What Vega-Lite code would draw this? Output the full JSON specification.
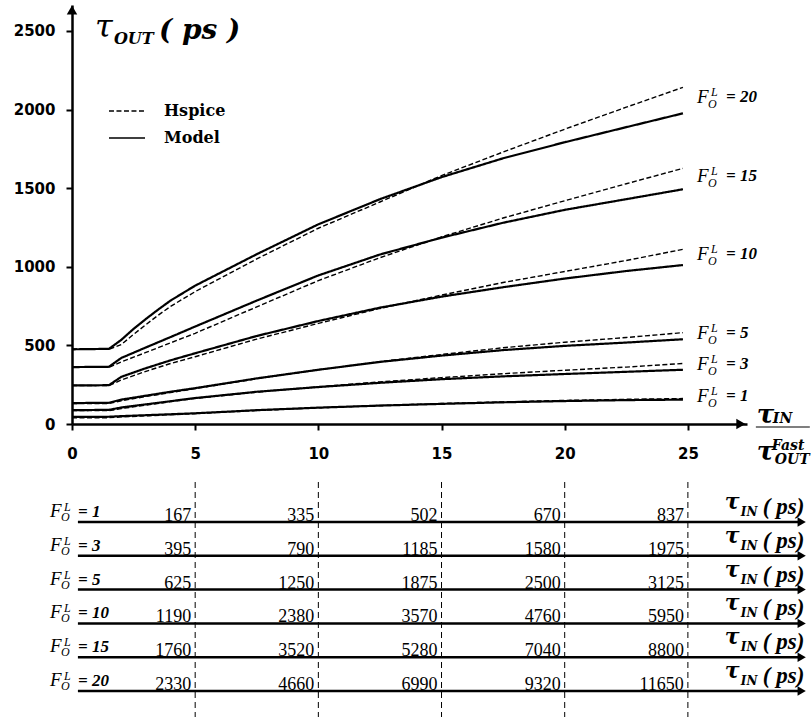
{
"$schema": "https://vega.github.io/schema/vega-lite/v6.json",
"autosize": "none",
"padding": {"left": 72, "top": 5, "right": 64, "bottom": 293},
"width": 675,
"height": 419,
"background": "white",
"config": {
  "view": {"stroke": null},
  "axis": {"domainColor": "black", "domainWidth": 2.5, "tickColor": "black", "tickWidth": 2, "tickSize": 6, "labelFont": "DejaVu Sans", "labelFontWeight": "bold", "labelFontSize": 15, "labelColor": "black", "grid": false, "labelFlush": false, "format": "d"},
  "axisX": {"labelPadding": 16},
  "axisY": {"labelPadding": 11}
},
"datasets": {
  "curves": [
    {"f":20,"s":"Model","x":0,"y":475},{"f":20,"s":"Model","x":1.5,"y":478},{"f":20,"s":"Model","x":2,"y":535},{"f":20,"s":"Model","x":2.5,"y":605},{"f":20,"s":"Model","x":3,"y":668},{"f":20,"s":"Model","x":3.5,"y":728},{"f":20,"s":"Model","x":4,"y":785},{"f":20,"s":"Model","x":5,"y":880},{"f":20,"s":"Model","x":7.5,"y":1080},{"f":20,"s":"Model","x":10,"y":1270},{"f":20,"s":"Model","x":12.5,"y":1430},{"f":20,"s":"Model","x":15,"y":1570},{"f":20,"s":"Model","x":17.5,"y":1690},{"f":20,"s":"Model","x":20,"y":1792},{"f":20,"s":"Model","x":22.5,"y":1888},{"f":20,"s":"Model","x":24.8,"y":1976},
    {"f":20,"s":"Hspice","x":0,"y":478},{"f":20,"s":"Hspice","x":1.5,"y":476},{"f":20,"s":"Hspice","x":2,"y":505},{"f":20,"s":"Hspice","x":2.5,"y":570},{"f":20,"s":"Hspice","x":3,"y":632},{"f":20,"s":"Hspice","x":3.5,"y":692},{"f":20,"s":"Hspice","x":4,"y":748},{"f":20,"s":"Hspice","x":5,"y":842},{"f":20,"s":"Hspice","x":7.5,"y":1050},{"f":20,"s":"Hspice","x":10,"y":1245},{"f":20,"s":"Hspice","x":12.5,"y":1412},{"f":20,"s":"Hspice","x":15,"y":1580},{"f":20,"s":"Hspice","x":17.5,"y":1730},{"f":20,"s":"Hspice","x":20,"y":1875},{"f":20,"s":"Hspice","x":22.5,"y":2015},{"f":20,"s":"Hspice","x":24.8,"y":2141},
    {"f":15,"s":"Model","x":0,"y":362},{"f":15,"s":"Model","x":1.5,"y":364},{"f":15,"s":"Model","x":2,"y":420},{"f":15,"s":"Model","x":3,"y":487},{"f":15,"s":"Model","x":4,"y":553},{"f":15,"s":"Model","x":5,"y":620},{"f":15,"s":"Model","x":7.5,"y":785},{"f":15,"s":"Model","x":10,"y":945},{"f":15,"s":"Model","x":12.5,"y":1078},{"f":15,"s":"Model","x":15,"y":1185},{"f":15,"s":"Model","x":17.5,"y":1280},{"f":15,"s":"Model","x":20,"y":1362},{"f":15,"s":"Model","x":22.5,"y":1430},{"f":15,"s":"Model","x":24.8,"y":1493},
    {"f":15,"s":"Hspice","x":0,"y":362},{"f":15,"s":"Hspice","x":1.5,"y":360},{"f":15,"s":"Hspice","x":2,"y":395},{"f":15,"s":"Hspice","x":3,"y":455},{"f":15,"s":"Hspice","x":4,"y":516},{"f":15,"s":"Hspice","x":5,"y":577},{"f":15,"s":"Hspice","x":7.5,"y":745},{"f":15,"s":"Hspice","x":10,"y":912},{"f":15,"s":"Hspice","x":12.5,"y":1058},{"f":15,"s":"Hspice","x":15,"y":1190},{"f":15,"s":"Hspice","x":17.5,"y":1310},{"f":15,"s":"Hspice","x":20,"y":1420},{"f":15,"s":"Hspice","x":22.5,"y":1528},{"f":15,"s":"Hspice","x":24.8,"y":1626},
    {"f":10,"s":"Model","x":0,"y":245},{"f":10,"s":"Model","x":1.5,"y":247},{"f":10,"s":"Model","x":2,"y":300},{"f":10,"s":"Model","x":3,"y":355},{"f":10,"s":"Model","x":4,"y":405},{"f":10,"s":"Model","x":5,"y":450},{"f":10,"s":"Model","x":7.5,"y":560},{"f":10,"s":"Model","x":10,"y":655},{"f":10,"s":"Model","x":12.5,"y":740},{"f":10,"s":"Model","x":15,"y":810},{"f":10,"s":"Model","x":17.5,"y":870},{"f":10,"s":"Model","x":20,"y":925},{"f":10,"s":"Model","x":22.5,"y":973},{"f":10,"s":"Model","x":24.8,"y":1011},
    {"f":10,"s":"Hspice","x":0,"y":245},{"f":10,"s":"Hspice","x":1.5,"y":244},{"f":10,"s":"Hspice","x":2,"y":280},{"f":10,"s":"Hspice","x":3,"y":335},{"f":10,"s":"Hspice","x":4,"y":385},{"f":10,"s":"Hspice","x":5,"y":428},{"f":10,"s":"Hspice","x":7.5,"y":540},{"f":10,"s":"Hspice","x":10,"y":640},{"f":10,"s":"Hspice","x":12.5,"y":735},{"f":10,"s":"Hspice","x":15,"y":820},{"f":10,"s":"Hspice","x":17.5,"y":900},{"f":10,"s":"Hspice","x":20,"y":970},{"f":10,"s":"Hspice","x":22.5,"y":1040},{"f":10,"s":"Hspice","x":24.8,"y":1111},
    {"f":5,"s":"Model","x":0,"y":133},{"f":5,"s":"Model","x":1.5,"y":135},{"f":5,"s":"Model","x":2,"y":155},{"f":5,"s":"Model","x":3,"y":180},{"f":5,"s":"Model","x":4,"y":205},{"f":5,"s":"Model","x":5,"y":228},{"f":5,"s":"Model","x":7.5,"y":290},{"f":5,"s":"Model","x":10,"y":345},{"f":5,"s":"Model","x":12.5,"y":395},{"f":5,"s":"Model","x":15,"y":435},{"f":5,"s":"Model","x":17.5,"y":470},{"f":5,"s":"Model","x":20,"y":497},{"f":5,"s":"Model","x":22.5,"y":518},{"f":5,"s":"Model","x":24.8,"y":539},
    {"f":5,"s":"Hspice","x":0,"y":130},{"f":5,"s":"Hspice","x":1.5,"y":130},{"f":5,"s":"Hspice","x":2,"y":148},{"f":5,"s":"Hspice","x":3,"y":175},{"f":5,"s":"Hspice","x":4,"y":200},{"f":5,"s":"Hspice","x":5,"y":225},{"f":5,"s":"Hspice","x":7.5,"y":288},{"f":5,"s":"Hspice","x":10,"y":345},{"f":5,"s":"Hspice","x":12.5,"y":397},{"f":5,"s":"Hspice","x":15,"y":442},{"f":5,"s":"Hspice","x":17.5,"y":485},{"f":5,"s":"Hspice","x":20,"y":520},{"f":5,"s":"Hspice","x":22.5,"y":550},{"f":5,"s":"Hspice","x":24.8,"y":581},
    {"f":3,"s":"Model","x":0,"y":88},{"f":3,"s":"Model","x":1.5,"y":90},{"f":3,"s":"Model","x":2,"y":105},{"f":3,"s":"Model","x":3,"y":125},{"f":3,"s":"Model","x":4,"y":145},{"f":3,"s":"Model","x":5,"y":165},{"f":3,"s":"Model","x":7.5,"y":205},{"f":3,"s":"Model","x":10,"y":235},{"f":3,"s":"Model","x":12.5,"y":262},{"f":3,"s":"Model","x":15,"y":285},{"f":3,"s":"Model","x":17.5,"y":303},{"f":3,"s":"Model","x":20,"y":318},{"f":3,"s":"Model","x":22.5,"y":332},{"f":3,"s":"Model","x":24.8,"y":345},
    {"f":3,"s":"Hspice","x":0,"y":85},{"f":3,"s":"Hspice","x":1.5,"y":85},{"f":3,"s":"Hspice","x":2,"y":98},{"f":3,"s":"Hspice","x":3,"y":120},{"f":3,"s":"Hspice","x":4,"y":142},{"f":3,"s":"Hspice","x":5,"y":163},{"f":3,"s":"Hspice","x":7.5,"y":203},{"f":3,"s":"Hspice","x":10,"y":237},{"f":3,"s":"Hspice","x":12.5,"y":268},{"f":3,"s":"Hspice","x":15,"y":295},{"f":3,"s":"Hspice","x":17.5,"y":320},{"f":3,"s":"Hspice","x":20,"y":342},{"f":3,"s":"Hspice","x":22.5,"y":362},{"f":3,"s":"Hspice","x":24.8,"y":385},
    {"f":1,"s":"Model","x":0,"y":45},{"f":1,"s":"Model","x":1.5,"y":46},{"f":1,"s":"Model","x":2,"y":50},{"f":1,"s":"Model","x":3,"y":56},{"f":1,"s":"Model","x":4,"y":62},{"f":1,"s":"Model","x":5,"y":68},{"f":1,"s":"Model","x":7.5,"y":88},{"f":1,"s":"Model","x":10,"y":104},{"f":1,"s":"Model","x":12.5,"y":117},{"f":1,"s":"Model","x":15,"y":128},{"f":1,"s":"Model","x":17.5,"y":138},{"f":1,"s":"Model","x":20,"y":146},{"f":1,"s":"Model","x":22.5,"y":152},{"f":1,"s":"Model","x":24.8,"y":155},
    {"f":1,"s":"Hspice","x":0,"y":40},{"f":1,"s":"Hspice","x":1.5,"y":40},{"f":1,"s":"Hspice","x":2,"y":45},{"f":1,"s":"Hspice","x":3,"y":52},{"f":1,"s":"Hspice","x":4,"y":59},{"f":1,"s":"Hspice","x":5,"y":66},{"f":1,"s":"Hspice","x":7.5,"y":86},{"f":1,"s":"Hspice","x":10,"y":103},{"f":1,"s":"Hspice","x":12.5,"y":118},{"f":1,"s":"Hspice","x":15,"y":130},{"f":1,"s":"Hspice","x":17.5,"y":141},{"f":1,"s":"Hspice","x":20,"y":150},{"f":1,"s":"Hspice","x":22.5,"y":157},{"f":1,"s":"Hspice","x":24.8,"y":162}
  ],
  "table": [
    {"row":1,"f":1,"x":5,"v":167},{"row":1,"f":1,"x":10,"v":335},{"row":1,"f":1,"x":15,"v":502},{"row":1,"f":1,"x":20,"v":670},{"row":1,"f":1,"x":25,"v":837},
    {"row":2,"f":3,"x":5,"v":395},{"row":2,"f":3,"x":10,"v":790},{"row":2,"f":3,"x":15,"v":1185},{"row":2,"f":3,"x":20,"v":1580},{"row":2,"f":3,"x":25,"v":1975},
    {"row":3,"f":5,"x":5,"v":625},{"row":3,"f":5,"x":10,"v":1250},{"row":3,"f":5,"x":15,"v":1875},{"row":3,"f":5,"x":20,"v":2500},{"row":3,"f":5,"x":25,"v":3125},
    {"row":4,"f":10,"x":5,"v":1190},{"row":4,"f":10,"x":10,"v":2380},{"row":4,"f":10,"x":15,"v":3570},{"row":4,"f":10,"x":20,"v":4760},{"row":4,"f":10,"x":25,"v":5950},
    {"row":5,"f":15,"x":5,"v":1760},{"row":5,"f":15,"x":10,"v":3520},{"row":5,"f":15,"x":15,"v":5280},{"row":5,"f":15,"x":20,"v":7040},{"row":5,"f":15,"x":25,"v":8800},
    {"row":6,"f":20,"x":5,"v":2330},{"row":6,"f":20,"x":10,"v":4660},{"row":6,"f":20,"x":15,"v":6990},{"row":6,"f":20,"x":20,"v":9320},{"row":6,"f":20,"x":25,"v":11650}
  ]
},
"resolve": {"scale": {"y": "independent"}},
"layer": [
  {
    "data": {"name": "curves"},
    "layer": [
      {
        "transform": [{"filter": "datum.s == 'Hspice'"}],
        "mark": {"type": "line", "color": "black", "strokeWidth": 1.4},
        "encoding": {
          "x": {"field": "x", "type": "quantitative", "scale": {"domain": [0, 27.4], "nice": false, "zero": false}, "axis": {"values": [0, 5, 10, 15, 20, 25], "title": null}},
          "y": {"field": "y", "type": "quantitative", "scale": {"domain": [0, 2665], "nice": false, "zero": false}, "axis": {"values": [0, 500, 1000, 1500, 2000, 2500], "title": null}},
          "detail": {"field": "f"},
          "strokeDash": {"field": "s", "type": "nominal", "scale": {"domain": ["Hspice", "Model"], "range": [[5, 2.5], [1, 0]]},
            "legend": {"orient": "none", "legendX": 36, "legendY": 87, "title": null, "labelFont": "DejaVu Serif", "labelFontWeight": "bold", "labelFontSize": 16, "labelColor": "black", "symbolType": "stroke", "symbolSize": 1300, "symbolStrokeColor": "black", "symbolStrokeWidth": 1.5, "rowPadding": 0, "labelOffset": 18}}
        }
      },
      {
        "transform": [{"filter": "datum.s == 'Model'"}],
        "mark": {"type": "line", "color": "black", "strokeWidth": 2.2},
        "encoding": {
          "x": {"field": "x", "type": "quantitative", "title": null, "scale": {"domain": [0, 27.4], "nice": false, "zero": false}},
          "y": {"field": "y", "type": "quantitative", "title": null, "scale": {"domain": [0, 2665], "nice": false, "zero": false}},
          "detail": {"field": "f"},
          "strokeDash": {"field": "s", "type": "nominal", "scale": {"domain": ["Hspice", "Model"], "range": [[5, 2.5], [1, 0]]}}
        }
      },
      {
        "data": {"values": [{"k": "y"}]},
        "mark": {"type": "point", "shape": "triangle-up", "filled": true, "color": "black", "size": 110, "opacity": 1},
        "encoding": {
          "x": {"datum": 0, "type": "quantitative", "scale": {"domain": [0, 27.4], "nice": false, "zero": false}},
          "y": {"datum": 2633, "type": "quantitative", "scale": {"domain": [0, 2665], "nice": false, "zero": false}}
        }
      },
      {
        "data": {"values": [{"k": "x"}]},
        "mark": {"type": "point", "shape": "triangle-right", "filled": true, "color": "black", "size": 110, "opacity": 1},
        "encoding": {
          "x": {"datum": 27.15, "type": "quantitative", "scale": {"domain": [0, 27.4], "nice": false, "zero": false}},
          "y": {"datum": 0, "type": "quantitative", "scale": {"domain": [0, 2665], "nice": false, "zero": false}}
        }
      },
      {
        "data": {"values": [{"k": "title"}]},
        "encoding": {
          "x": {"datum": 0.93, "type": "quantitative", "scale": {"domain": [0, 27.4], "nice": false, "zero": false}},
          "y": {"datum": 2461, "type": "quantitative", "scale": {"domain": [0, 2665], "nice": false, "zero": false}}
        },
        "layer": [
          {"mark": {"type": "text", "text": "τ", "font": "DejaVu Serif", "fontStyle": "italic", "fontSize": 32, "align": "left", "baseline": "alphabetic", "color": "black"}},
          {"mark": {"type": "text", "text": "OUT", "font": "DejaVu Serif", "fontStyle": "italic", "fontWeight": "bold", "fontSize": 16, "align": "left", "baseline": "alphabetic", "color": "black", "dx": 19, "dy": 7}},
          {"mark": {"type": "text", "text": "( ps )", "font": "DejaVu Serif", "fontStyle": "italic", "fontWeight": "bold", "fontSize": 28, "align": "left", "baseline": "alphabetic", "color": "black", "dx": 64, "dy": 2}}
        ]
      },
      {
        "data": {"values": [{"k": "xtitle"}]},
        "encoding": {
          "x": {"datum": 27.8, "type": "quantitative", "scale": {"domain": [0, 27.4], "nice": false, "zero": false}},
          "y": {"datum": 0, "type": "quantitative", "scale": {"domain": [0, 2665], "nice": false, "zero": false}}
        },
        "layer": [
          {"mark": {"type": "text", "text": "τ", "font": "DejaVu Serif", "fontStyle": "italic", "fontWeight": "bold", "fontSize": 26, "align": "left", "baseline": "alphabetic", "color": "black", "dy": -1}},
          {"mark": {"type": "text", "text": "IN", "font": "DejaVu Serif", "fontStyle": "italic", "fontWeight": "bold", "fontSize": 14, "align": "left", "baseline": "alphabetic", "color": "black", "dx": 16, "dy": -1}},
          {"mark": {"type": "text", "text": "τ", "font": "DejaVu Serif", "fontStyle": "italic", "fontWeight": "bold", "fontSize": 26, "align": "left", "baseline": "alphabetic", "color": "black", "dy": 36}},
          {"mark": {"type": "text", "text": "Fast", "font": "DejaVu Serif", "fontStyle": "italic", "fontWeight": "bold", "fontSize": 14, "align": "left", "baseline": "alphabetic", "color": "black", "dx": 15, "dy": 26}},
          {"mark": {"type": "text", "text": "OUT", "font": "DejaVu Serif", "fontStyle": "italic", "fontWeight": "bold", "fontSize": 14, "align": "left", "baseline": "alphabetic", "color": "black", "dx": 18, "dy": 40}}
        ]
      },
      {
        "data": {"values": [{"k": "bar"}]},
        "mark": {"type": "rule", "color": "black", "strokeWidth": 1.2},
        "encoding": {
          "x": {"datum": 27.76, "type": "quantitative", "scale": {"domain": [0, 27.4], "nice": false, "zero": false}},
          "x2": {"datum": 29.95},
          "y": {"datum": -19, "type": "quantitative", "scale": {"domain": [0, 2665], "nice": false, "zero": false}}
        }
      },
      {
        "transform": [
          {"filter": "datum.x == 24.8"},
          {"aggregate": [{"op": "mean", "field": "y", "as": "my"}], "groupby": ["f"]},
          {"calculate": "'= ' + datum.f", "as": "eq"}
        ],
        "encoding": {
          "x": {"datum": 25.37, "type": "quantitative", "scale": {"domain": [0, 27.4], "nice": false, "zero": false}},
          "y": {"field": "my", "type": "quantitative", "title": null, "scale": {"domain": [0, 2665], "nice": false, "zero": false}}
        },
        "layer": [
          {"mark": {"type": "text", "text": "F", "font": "Liberation Serif", "fontStyle": "italic", "fontSize": 19, "align": "left", "baseline": "middle", "color": "black", "dy": -3}},
          {"mark": {"type": "text", "text": "L", "font": "Liberation Serif", "fontStyle": "italic", "fontSize": 12, "align": "left", "baseline": "middle", "color": "black", "dx": 14, "dy": -8}},
          {"mark": {"type": "text", "text": "O", "font": "Liberation Serif", "fontStyle": "italic", "fontSize": 12, "align": "left", "baseline": "middle", "color": "black", "dx": 11, "dy": 4}},
          {"mark": {"type": "text", "font": "Liberation Serif", "fontStyle": "italic", "fontWeight": "bold", "fontSize": 17, "align": "left", "baseline": "middle", "color": "black", "dx": 29, "dy": -3}, "encoding": {"text": {"field": "eq"}}}
        ]
      }
    ]
  },
  {
    "data": {"name": "table"},
    "layer": [
      {
        "transform": [{"filter": "datum.x == 5"}],
        "mark": {"type": "rule", "color": "black", "strokeWidth": 2.5},
        "encoding": {
          "x": {"datum": 0.24, "type": "quantitative", "scale": {"domain": [0, 27.4], "nice": false, "zero": false}},
          "x2": {"datum": 29.6},
          "y": {"field": "row", "type": "quantitative", "axis": null, "scale": {"domain": [-0.183, 6.77], "range": [477, 712], "nice": false, "zero": false}}
        }
      },
      {
        "transform": [{"filter": "datum.x == 5"}],
        "mark": {"type": "point", "shape": "triangle-right", "filled": true, "color": "black", "size": 90, "opacity": 1},
        "encoding": {
          "x": {"datum": 29.62, "type": "quantitative", "scale": {"domain": [0, 27.4], "nice": false, "zero": false}},
          "y": {"field": "row", "type": "quantitative", "axis": null, "scale": {"domain": [-0.183, 6.77], "range": [477, 712], "nice": false, "zero": false}}
        }
      },
      {
        "transform": [{"filter": "datum.row == 1"}],
        "mark": {"type": "rule", "color": "black", "strokeWidth": 1, "strokeDash": [6, 4]},
        "encoding": {
          "x": {"field": "x", "type": "quantitative", "title": null, "scale": {"domain": [0, 27.4], "nice": false, "zero": false}},
          "y": {"datum": -0.183, "type": "quantitative", "axis": null, "scale": {"domain": [-0.183, 6.77], "range": [477, 712], "nice": false, "zero": false}},
          "y2": {"datum": 6.77}
        }
      },
      {
        "mark": {"type": "text", "font": "Liberation Serif", "fontSize": 18, "align": "right", "baseline": "alphabetic", "color": "black", "dx": -4, "dy": -1},
        "encoding": {
          "x": {"field": "x", "type": "quantitative", "title": null, "scale": {"domain": [0, 27.4], "nice": false, "zero": false}},
          "y": {"field": "row", "type": "quantitative", "axis": null, "scale": {"domain": [-0.183, 6.77], "range": [477, 712], "nice": false, "zero": false}},
          "text": {"field": "v"}
        }
      },
      {
        "transform": [{"filter": "datum.x == 5"}, {"calculate": "'= ' + datum.f", "as": "eq"}],
        "encoding": {
          "x": {"datum": -0.89, "type": "quantitative", "scale": {"domain": [0, 27.4], "nice": false, "zero": false}},
          "y": {"field": "row", "type": "quantitative", "axis": null, "scale": {"domain": [-0.183, 6.77], "range": [477, 712], "nice": false, "zero": false}}
        },
        "layer": [
          {"mark": {"type": "text", "text": "F", "font": "Liberation Serif", "fontStyle": "italic", "fontSize": 19, "align": "left", "baseline": "alphabetic", "color": "black", "dy": -5}},
          {"mark": {"type": "text", "text": "L", "font": "Liberation Serif", "fontStyle": "italic", "fontSize": 12, "align": "left", "baseline": "alphabetic", "color": "black", "dx": 14, "dy": -11}},
          {"mark": {"type": "text", "text": "O", "font": "Liberation Serif", "fontStyle": "italic", "fontSize": 12, "align": "left", "baseline": "alphabetic", "color": "black", "dx": 11, "dy": -1}},
          {"mark": {"type": "text", "font": "Liberation Serif", "fontStyle": "italic", "fontWeight": "bold", "fontSize": 17, "align": "left", "baseline": "alphabetic", "color": "black", "dx": 28, "dy": -5}, "encoding": {"text": {"field": "eq"}}}
        ]
      },
      {
        "transform": [{"filter": "datum.x == 5"}],
        "encoding": {
          "x": {"datum": 26.5, "type": "quantitative", "scale": {"domain": [0, 27.4], "nice": false, "zero": false}},
          "y": {"field": "row", "type": "quantitative", "axis": null, "scale": {"domain": [-0.183, 6.77], "range": [477, 712], "nice": false, "zero": false}}
        },
        "layer": [
          {"mark": {"type": "text", "text": "τ", "font": "DejaVu Serif", "fontStyle": "italic", "fontWeight": "bold", "fontSize": 22, "align": "left", "baseline": "alphabetic", "color": "black", "dy": -13}},
          {"mark": {"type": "text", "text": "IN", "font": "DejaVu Serif", "fontStyle": "italic", "fontWeight": "bold", "fontSize": 12, "align": "left", "baseline": "alphabetic", "color": "black", "dx": 16, "dy": -6}},
          {"mark": {"type": "text", "text": "( ps)", "font": "Liberation Serif", "fontStyle": "italic", "fontWeight": "bold", "fontSize": 23, "align": "left", "baseline": "alphabetic", "color": "black", "dx": 38, "dy": -8}}
        ]
      }
    ]
  }
]
}
